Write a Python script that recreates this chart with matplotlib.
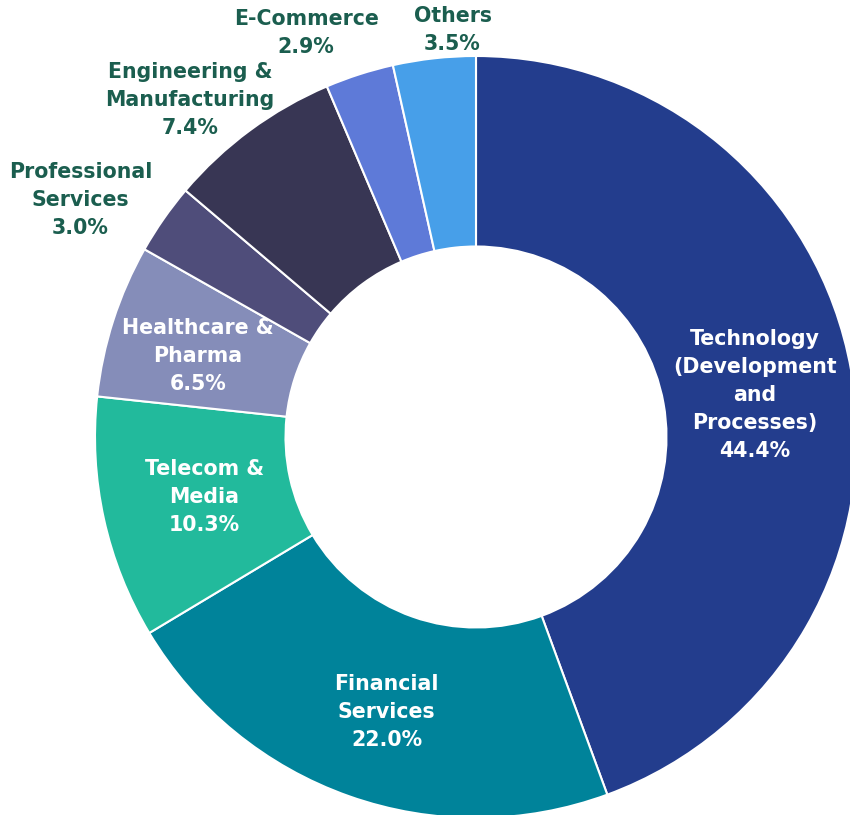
import numpy as np
import matplotlib.pyplot as plt

sectors = ["Technology\n(Development\nand\nProcesses)", "Financial\nServices", "Telecom &\nMedia",
           "Healthcare &\nPharma", "Professional\nServices", "Engineering &\nManufacturing",
           "E-Commerce", "Others"]
shares = [44.4, 22.0, 10.3, 6.5, 3.0, 7.4, 2.9, 3.5]
colors = ["#233D8D", "#00839A", "#22BA9C", "#858DB9", "#4F4D7A", "#383654", "#5E7AD8", "#479FE9"]
# small slices get their label outside the ring
outside = [False, False, False, False, True, True, True, True]
# label distance (in radii) and angular nudge (deg) for each label
label_r = [0.74, 0.76, 0.73, 0.76, 1.21, 1.16, 1.15, 1.07]
label_da = [-1.5, 1.5, 0.0, 1.5, 4.0, 4.0, 5.0, -3.0]

plt.rcParams['font.family'] = ['DejaVu Sans']

fig = plt.figure(figsize=(8.5, 8.15), dpi=100)
ax = fig.add_axes([0, 0, 1, 1])

cx, cy, R = 476, 378, 381
wedges, _ = ax.pie(shares, colors=colors, startangle=90, counterclock=False,
                   center=(cx, cy), radius=R, frame=True,
                   wedgeprops=dict(width=R * 0.5, edgecolor='white', linewidth=1.5))
ax.set_xlim(0, 850)
ax.set_ylim(0, 815)
ax.set_aspect('equal')
ax.axis('off')

for w, name, val, out, lr, da in zip(wedges, sectors, shares, outside, label_r, label_da):
    mid = np.deg2rad((w.theta1 + w.theta2) / 2 + da)
    x = cx + lr * R * np.cos(mid)
    y = cy + lr * R * np.sin(mid)
    ax.text(x, y, f"{name}\n{val:.1f}%", ha='center', va='center', fontsize=14.8,
            fontweight='bold', linespacing=1.5,
            color='#1B5E4F' if out else 'white')

fig.savefig('out.png', dpi=100)
